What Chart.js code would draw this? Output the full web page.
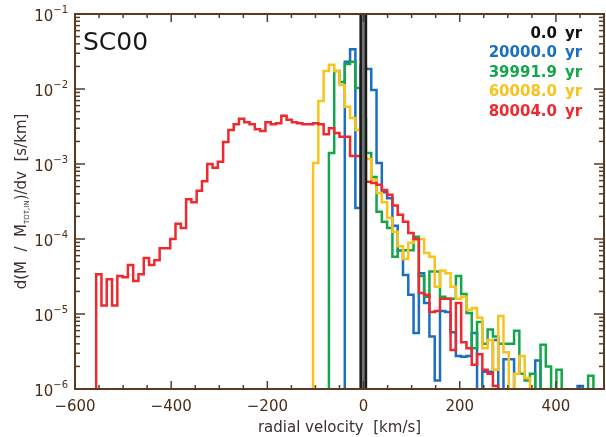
<!DOCTYPE html>
<html>
<head>
<meta charset="utf-8">
<script src="https://cdn.jsdelivr.net/npm/chart.js@4/dist/chart.umd.min.js"></script>
<style>
  html, body { margin: 0; padding: 0; background: #fff; }
  #wrap { width: 606px; height: 437px; position: relative; }
</style>
</head>
<body>
<div id="wrap"><canvas id="chart"></canvas></div>
<script>
// histogram grid (km/s)
const binMin = -600;
const binWidth = 11;

const xTickValues = [-600, -400, -200, 0, 200, 400];
const yTickExponents = [-6, -5, -4, -3, -2, -1];

const seriesLabels = ['0.0', '20000.0', '39991.9', '60008.0', '80004.0'];
const seriesColors = ['#111111', '#1c6ebf', '#14a64a', '#f8c31c', '#ec2a2f'];

// each series: index of first bin + value per bin, dM/dv [s/km]
const spikeStart = 54;
const spikeValues = [0.125];

const blueStart = 51;
const blueValues = [
  2.3e-2, 3.4e-2, 2.6e-4, 2.0e-2, 1.85e-2, 9.7e-3, 1.03e-3, 4.2e-4, 3.5e-4, 1.5e-4,
  7.0e-5, 3.3e-5, 1.8e-5, 5.6e-6, 3.5e-5, 1.4e-5, 5.0e-6, 1.3e-6, 1.1e-5, 1.06e-5,
  5.7e-6, 2.75e-6, 2.7e-6, 2.75e-6, 5.6e-6, 0, 1.7e-6, 1.7e-6, 4.5e-6, 0,
  2.5e-6, 2.5e-6, 0, 0, 0, 0, 2.4e-6, 0, 0, 0,
  0, 0, 0, 0, 1.1e-6
];

const greenStart = 48;
const greenValues = [
  1.4e-3, 1.74e-2, 1.24e-2, 2.15e-2, 2.3e-2, 1.03e-2, 4.0e-3, 1.4e-3, 6.7e-4, 2.3e-4,
  1.7e-4, 1.4e-4, 5.8e-5, 7.1e-5, 7.1e-5, 7.1e-5, 1.07e-4, 3.2e-5, 1.7e-5, 3.7e-5,
  3.7e-5, 1.7e-5, 1.6e-5, 1.6e-5, 3.2e-5, 1.85e-5, 1.03e-5, 3.5e-6, 7.8e-6, 4.0e-6,
  6.2e-6, 5.0e-6, 4.0e-6, 4.0e-6, 4.0e-6, 6.0e-6, 1.6e-6, 1.3e-6, 1.6e-6, 0,
  3.9e-6, 2.0e-6, 0, 1.8e-6, 0, 0, 0, 0, 0, 1.5e-6
];

const yellowStart = 45;
const yellowValues = [
  1.03e-3, 6.9e-3, 1.74e-2, 2.1e-2, 1.74e-2, 1.13e-2, 5.8e-3, 4.1e-3, 2.84e-3, 1.9e-3,
  1.17e-3, 6.2e-4, 4.1e-4, 3.1e-4, 1.9e-4, 1.25e-4, 8.0e-5, 5.4e-5, 8.9e-5, 9.8e-5,
  1.0e-4, 6.5e-5, 5.8e-5, 2.3e-5, 3.8e-5, 3.5e-5, 2.3e-5, 1.6e-5, 1.7e-5, 1.13e-5,
  1.2e-5, 8.9e-6, 3.5e-6, 4.5e-6, 1.8e-6, 9.4e-6, 3.1e-6, 0, 1.6e-6, 2.75e-6,
  1.4e-6
];

const redStart = 4;
const redValues = [
  3.4e-5, 1.3e-5, 2.9e-5, 1.3e-5, 3.2e-5, 3.1e-5, 4.5e-5, 2.75e-5, 3.4e-5, 5.6e-5,
  4.5e-5, 5.2e-5, 7.5e-5, 7.5e-5, 1.0e-4, 1.6e-4, 1.4e-4, 3.4e-4, 3.1e-4, 4.4e-4,
  5.9e-4, 1.0e-3, 8.9e-4, 1.07e-3, 1.96e-3, 2.84e-3, 3.4e-3, 4.0e-3, 3.6e-3, 3.4e-3,
  2.9e-3, 2.75e-3, 3.6e-3, 3.4e-3, 3.5e-3, 4.4e-3, 3.9e-3, 3.6e-3, 3.5e-3, 3.4e-3,
  3.4e-3, 3.5e-3, 3.4e-3, 2.5e-3, 3.0e-3, 2.6e-3, 2.3e-3, 2.3e-3, 1.28e-3, 1.28e-3,
  1.2e-3, 5.8e-4, 5.6e-4, 5.3e-4, 4.5e-4, 3.9e-4, 2.8e-4, 2.1e-4, 1.7e-4, 1.2e-4,
  1.0e-4, 1.9e-5, 1.8e-5, 1.06e-5, 1.1e-5, 1.6e-5, 1.6e-5, 3.3e-6, 1.4e-5, 4.2e-6,
  3.5e-6, 2.1e-6, 2.9e-6, 1.8e-6, 1.6e-6, 1.1e-6
];

const axisColor = '#5a3a20';
const labelColor = '#4a2c16';
const titleColor = '#3a3030';
const fontFamily = '"DejaVu Sans", sans-serif';

/**
 * Turn a run of bin values into step points (empty bins sit far below the axis)
 */
function toSteps(start, values) {
  const floor = 1e-9;
  const edge = k => binMin + k * binWidth;
  const points = [{ x: edge(start - 1), y: floor }];
  values.forEach((v, i) => points.push({ x: edge(start + i), y: v > 0 ? v : floor }));
  points.push({ x: edge(start + values.length), y: floor });
  return points;
}

function stepDataset(points, color, extra = {}) {
  return Object.assign({
    data: points,
    borderColor: color,
    backgroundColor: color,
    borderWidth: 2.5,
    pointRadius: 0,
    stepped: 'before',
    fill: false,
    borderJoinStyle: 'miter'
  }, extra);
}

/**
 * Frame, inward ticks, y labels, titles and the legend text
 */
const decorations = {
  id: 'decorations',
  afterDraw(chart) {
    const { ctx, chartArea: a, scales: { x, y } } = chart;
    ctx.save();

    ctx.strokeStyle = axisColor;
    ctx.lineWidth = 1.5;
    const tick = (x1, y1, x2, y2) => {
      ctx.beginPath(); ctx.moveTo(x1, y1); ctx.lineTo(x2, y2); ctx.stroke();
    };
    for (let v = -600; v <= 500; v += 50) {
      const px = x.getPixelForValue(v);
      const len = v % 200 === 0 ? 8 : 4;
      tick(px, a.bottom, px, a.bottom - len);
      tick(px, a.top, px, a.top + len);
    }
    yTickExponents.forEach(e => {
      for (let m = 1; m <= 9; m++) {
        const val = m * Math.pow(10, e);
        if (val > 0.1 + 1e-12) break;
        const py = y.getPixelForValue(val);
        const len = m === 1 ? 10 : 5;
        tick(a.left, py, a.left + len, py);
        tick(a.right, py, a.right - len, py);
      }
    });
    ctx.lineWidth = 2;
    ctx.strokeRect(a.left, a.top, a.right - a.left, a.bottom - a.top);

    // y tick labels as 10^n
    ctx.fillStyle = labelColor;
    ctx.textBaseline = 'alphabetic';
    yTickExponents.forEach(e => {
      const py = y.getPixelForValue(Math.pow(10, e));
      const exp = '\u2212' + Math.abs(e);
      ctx.font = '10px ' + fontFamily;
      ctx.textAlign = 'right';
      ctx.fillText(exp, 68, py - 1);
      const w = ctx.measureText(exp).width;
      ctx.font = '15px ' + fontFamily;
      ctx.fillText('10', 68 - w, py + 7);
    });

    // y title with subscript, rotated
    ctx.save();
    ctx.translate(21, (a.top + a.bottom) / 2);
    ctx.rotate(-Math.PI / 2);
    ctx.fillStyle = titleColor;
    const parts = [
      { t: 'd(M  /  M', f: '15px ' + fontFamily, dy: 0 },
      { t: 'TOT,IN', f: '7px ' + fontFamily, dy: 3 },
      { t: ')/dv  [s/km]', f: '15px ' + fontFamily, dy: 0 }
    ];
    let total = 0;
    parts.forEach(p => { ctx.font = p.f; p.w = ctx.measureText(p.t).width; total += p.w; });
    let cx = -total / 2;
    ctx.textAlign = 'left';
    parts.forEach(p => { ctx.font = p.f; ctx.fillText(p.t, cx, 5 + p.dy); cx += p.w; });
    ctx.restore();

    // run name
    ctx.fillStyle = '#1a1a1a';
    ctx.font = '25px ' + fontFamily;
    ctx.textAlign = 'left';
    ctx.fillText('SC00', 83, 50);

    // legend
    ctx.font = 'bold 15px ' + fontFamily;
    seriesLabels.forEach((label, i) => {
      const by = 37.5 + 19.5 * i;
      ctx.fillStyle = seriesColors[i];
      ctx.textAlign = 'right';
      ctx.fillText(label, 557, by);
      ctx.textAlign = 'left';
      ctx.fillText('yr', 565, by);
    });

    ctx.restore();
  }
};

const datasets = [
  stepDataset(toSteps(spikeStart, spikeValues), '#1a1a1a', { backgroundColor: '#727272', fill: 'start', borderWidth: 2.5 }),
  stepDataset(toSteps(redStart, redValues), seriesColors[4]),
  stepDataset(toSteps(yellowStart, yellowValues), seriesColors[3]),
  stepDataset(toSteps(greenStart, greenValues), seriesColors[2]),
  stepDataset(toSteps(blueStart, blueValues), seriesColors[1])
];

new Chart(document.getElementById('chart'), {
  type: 'line',
  data: { datasets: datasets },
  options: {
    responsive: true,
    maintainAspectRatio: false,
    animation: false,
    events: [],
    layout: { padding: { top: 14, right: 2, left: 0, bottom: 0 } },
    plugins: {
      legend: { display: false },
      tooltip: { enabled: false }
    },
    scales: {
      x: {
        type: 'linear',
        min: -600,
        max: 500,
        grid: { display: false, drawTicks: false },
        border: { display: false },
        afterBuildTicks: scale => { scale.ticks = xTickValues.map(v => ({ value: v })); },
        afterFit: scale => { scale.height = 48; },
        ticks: {
          autoSkip: false,
          maxRotation: 0,
          padding: 9,
          color: labelColor,
          font: { family: fontFamily, size: 15 },
          callback: v => (v < 0 ? '\u2212' + Math.abs(v) : String(v))
        },
        title: {
          display: true,
          text: 'radial velocity  [km/s]',
          color: titleColor,
          font: { family: fontFamily, size: 15 },
          padding: { top: 2, bottom: 0 }
        }
      },
      y: {
        type: 'logarithmic',
        min: 1e-6,
        max: 1e-1,
        grid: { display: false, drawTicks: false },
        border: { display: false },
        ticks: { display: false },
        afterFit: scale => { scale.width = 75; }
      }
    }
  },
  plugins: [decorations]
});
</script>
</body>
</html>
